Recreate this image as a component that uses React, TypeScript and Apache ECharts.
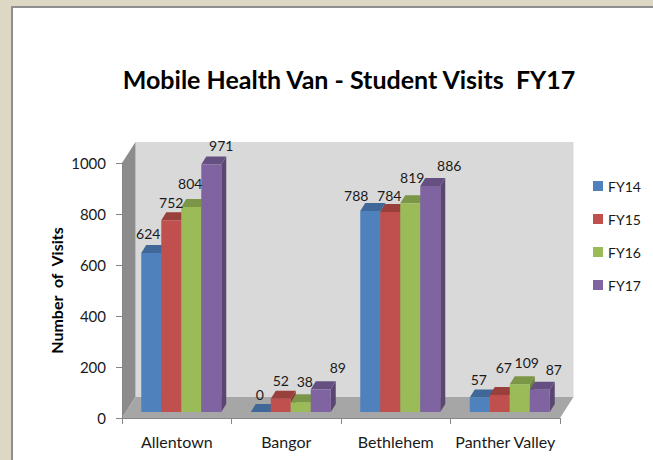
import React, { useEffect, useRef } from "react";
import * as echarts from "echarts";

const titleText = "Mobile Health Van - Student Visits  FY17";
const yAxisTitle = "Number  of  Visits";
const categories = ["Allentown", "Bangor", "Bethlehem", "Panther Valley"];
const seriesNames = ["FY14", "FY15", "FY16", "FY17"];
const fy14 = [624, 0, 788, 57];
const fy15 = [752, 52, 784, 67];
const fy16 = [804, 38, 819, 109];
const fy17 = [971, 89, 886, 87];
const seriesValues = [fy14, fy15, fy16, fy17];

const FONT = "Lato";
const frontColors = ["#4F81BD", "#C0504D", "#9BBB59", "#8064A2"];
const topColors = ["#3F6797", "#99403D", "#7C9647", "#665082"];
const sideColors = ["#375A85", "#863835", "#6D833E", "#594671"];

// Label nudges [dx, dy] from the top-centre of each bar's front face, per series, per category.
const labelNudges = [
  [[-3, -19], [-1, -18], [-14, -16], [-1, -18]],
  [[0, -18], [0, -18], [-1, -17], [4, -27]],
  [[-1, -23], [4, -21], [2, -26], [7, -22]],
  [[10, -19], [17, -22], [19, -21], [14, -20]],
];

const BAR_W = 20;
const BAR_SHIFT_X = 4.5;
const BAR_SHIFT_Y = -6;
const BAR_DX = 5;
const BAR_DY = -8;
const WALL_DX = 13.5;
const WALL_DY = -21;

function barRender(seriesIndex: number) {
  return (params: any, api: any) => {
    const cat = api.value(0);
    const val = api.value(1);
    const p = api.coord([cat, val]);
    const base = api.coord([cat, 0]);
    const x = p[0] + BAR_SHIFT_X + (seriesIndex - 2) * BAR_W;
    const top = p[1] + BAR_SHIFT_Y;
    const bottom = base[1] + BAR_SHIFT_Y;
    const nudge = labelNudges[seriesIndex][cat];
    return {
      type: "group",
      children: [
        {
          type: "polygon",
          shape: { points: [[x + BAR_W, top], [x + BAR_W + BAR_DX, top + BAR_DY], [x + BAR_W + BAR_DX, bottom + BAR_DY], [x + BAR_W, bottom]] },
          style: { fill: sideColors[seriesIndex] },
        },
        {
          type: "polygon",
          shape: { points: [[x, top], [x + BAR_W, top], [x + BAR_W + BAR_DX, top + BAR_DY], [x + BAR_DX, top + BAR_DY]] },
          style: { fill: topColors[seriesIndex] },
        },
        {
          type: "rect",
          shape: { x, y: top, width: BAR_W, height: bottom - top },
          style: { fill: frontColors[seriesIndex] },
        },
        {
          type: "text",
          z2: 100,
          x: x + BAR_W / 2 + nudge[0],
          y: top + nudge[1],
          style: {
            text: String(val),
            fill: "#1a1a1a",
            font: `14px ${FONT}`,
            align: "center",
            verticalAlign: "middle",
          },
        },
      ],
    };
  };
}

function wallRender(params: any, api: any) {
  const cs = params.coordSys;
  const l = cs.x;
  const r = cs.x + cs.width;
  const t = cs.y;
  const b = cs.y + cs.height;
  return {
    type: "group",
    children: [
      {
        type: "polygon",
        shape: { points: [[l + WALL_DX, t + WALL_DY], [r + WALL_DX, t + WALL_DY], [r + WALL_DX, b + WALL_DY], [l + WALL_DX, b + WALL_DY]] },
        style: { fill: "#D9D9D9" },
      },
      {
        type: "polygon",
        shape: { points: [[l, t], [l + WALL_DX, t + WALL_DY], [l + WALL_DX, b + WALL_DY], [l, b]] },
        style: { fill: "#8C8C8C" },
      },
      {
        type: "polygon",
        shape: { points: [[l, b], [l + WALL_DX, b + WALL_DY], [r + WALL_DX, b + WALL_DY], [r, b]] },
        style: { fill: "#A6A6A6" },
      },
    ],
  };
}

export default function App() {
  const ref = useRef<HTMLDivElement>(null);
  useEffect(() => {
    const chart = echarts.init(ref.current!, undefined, { renderer: "svg" });
    const axisStyle = { color: "#868686", width: 1 };
    chart.setOption({
      animation: false,
      backgroundColor: "#DDD8C3",
      title: {
        text: titleText,
        left: 344,
        top: 61,
        textAlign: "center",
        textStyle: { fontFamily: FONT, fontWeight: "bold", fontSize: 25, color: "#000" },
      },
      graphic: [
        {
          type: "rect",
          z: -10,
          silent: true,
          shape: { x: 12, y: 7, width: 700, height: 500 },
          style: { fill: "#FFFFFF", stroke: "#8E8E8E", lineWidth: 2 },
        },
      ],
      legend: {
        data: seriesNames,
        orient: "vertical",
        left: 593,
        top: 179,
        itemWidth: 10,
        itemHeight: 10,
        itemGap: 19,
        icon: "rect",
        textStyle: { fontFamily: FONT, fontSize: 14, color: "#1a1a1a" },
        padding: 0,
      },
      grid: { left: 122, right: 93, top: 163, bottom: 42 },
      xAxis: {
        type: "category",
        data: categories,
        boundaryGap: true,
        z: 5,
        axisLine: { show: true, lineStyle: axisStyle },
        axisTick: { show: true, length: 6, alignWithLabel: false, lineStyle: axisStyle },
        axisLabel: { fontFamily: FONT, fontSize: 16, color: "#1a1a1a", margin: 15, interval: 0 },
      },
      yAxis: {
        type: "value",
        min: 0,
        max: 1000,
        interval: 200,
        z: 5,
        name: yAxisTitle,
        nameLocation: "middle",
        nameGap: 58,
        nameMoveOverlap: false,
        nameTextStyle: { fontFamily: FONT, fontWeight: "bold", fontSize: 16, color: "#000" },
        splitLine: { show: false },
        axisLine: { show: true, lineStyle: axisStyle },
        axisTick: { show: true, length: 6, lineStyle: axisStyle },
        axisLabel: { fontFamily: FONT, fontSize: 15, color: "#1a1a1a", margin: 16, formatter: (v: number) => String(v) },
      },
      series: [
        {
          type: "custom",
          name: "wall",
          z: 1,
          silent: true,
          clip: false,
          renderItem: wallRender,
          data: [[0, 0]],
          encode: { x: 0, y: 1 },
        },
        ...seriesNames.map((name, si) => ({
          type: "custom",
          name,
          z: 2,
          clip: false,
          itemStyle: { color: frontColors[si] },
          renderItem: barRender(si),
          data: seriesValues[si].map((v, i) => [i, v]),
          encode: { x: 0, y: 1 },
        })),
      ],
    });
    return () => chart.dispose();
  }, []);
  return (
    <div
      ref={ref}
      style={{ position: "absolute", left: 0, top: 0, width: 653, height: 460 }}
    />
  );
}
